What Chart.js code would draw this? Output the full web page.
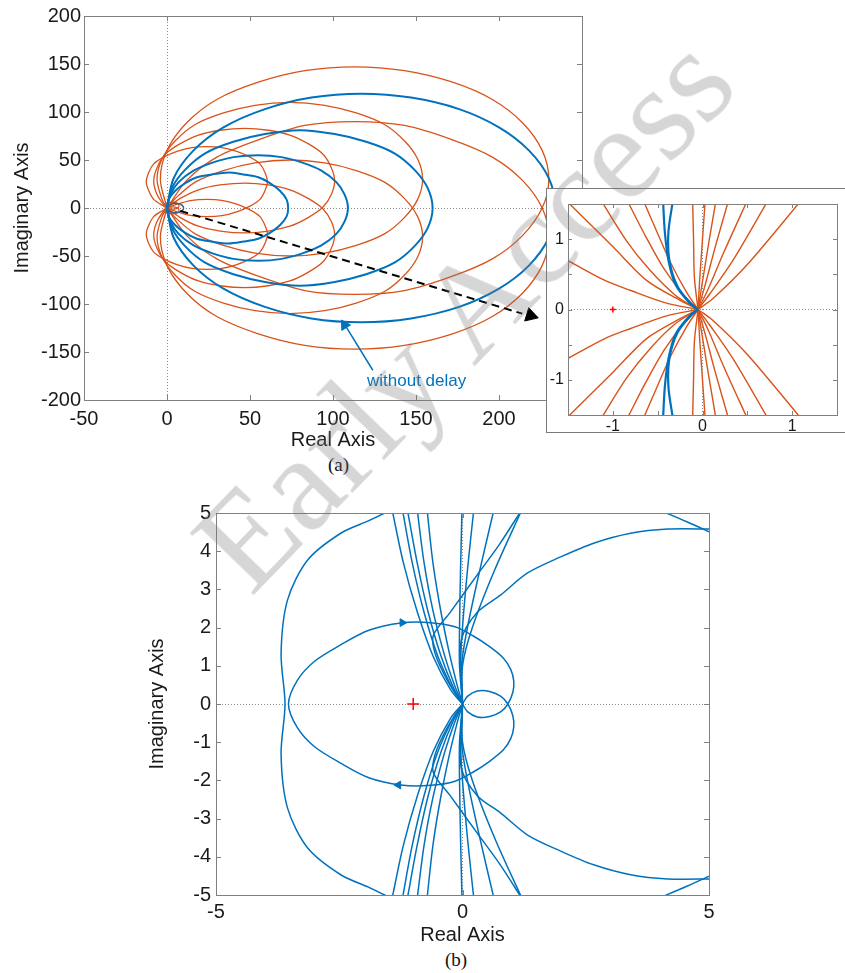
<!DOCTYPE html>
<html><head><meta charset="utf-8">
<script src="https://cdn.jsdelivr.net/npm/chart.js@4.4.1/dist/chart.umd.min.js"></script>
<style>
html,body{margin:0;padding:0;background:#fff}
body{width:845px;height:973px;position:relative;overflow:hidden;font-family:"Liberation Sans",Arial,sans-serif}
canvas{display:block}
.abs{position:absolute}
#boxA{left:0;top:0}
#boxI{left:546px;top:188px;width:299px;height:243px;background:#fff;border:1px solid #7a7a7a;border-right:none}
#boxB{left:100px;top:490px}
.cap{font-family:"Liberation Serif","Times New Roman",serif;font-size:19px;color:#111;line-height:20px}
#lblWD{left:367px;top:371px;font-size:17px;line-height:20px;color:#0072BD;white-space:nowrap}
#wm{left:110px;top:244px;font-family:"Liberation Serif","Times New Roman",serif;font-size:136px;line-height:136px;color:rgba(120,120,120,0.3);transform:rotate(-46deg);white-space:nowrap;pointer-events:none}
</style></head><body>
<div class="abs" id="boxA"><canvas id="cA" width="600" height="452"></canvas></div>
<div class="abs" id="lblWD">without delay</div>
<div class="abs" id="boxI"><canvas id="cI" width="298" height="243"></canvas></div>
<div class="abs cap" style="left:328px;top:455px">(a)</div>
<div class="abs" id="boxB"><canvas id="cB" width="630" height="457"></canvas></div>
<div class="abs cap" style="left:445px;top:950px">(b)</div>
<div class="abs" id="wm">Early Access</div>
<script>
// ---------------- DATA ----------------
// (a) main plot: tick values
const aXTicks = [-50, 0, 50, 100, 150, 200, 250];
const aYTicks = [-200, -150, -100, -50, 0, 50, 100, 150, 200];
// (a) blue loops, "without delay"
const blue1 = [[0,0],[1,9],[5,18],[11,26],[18,32],[27,35],[37,37],[46,35],[55,32],[62,26],[68,18],[72,9],[73,0],[72,-9],[68,-18],[62,-26],[55,-32],[46,-35],[37,-37],[27,-35],[18,-32],[11,-26],[5,-18],[1,-9],[0,0]];
const blue2 = [[0,0],[2,14],[7,27],[16,39],[27,47],[40,53],[55,55],[69,53],[82,47],[93,39],[102,27],[107,14],[109,0],[107,-14],[102,-27],[93,-39],[82,-47],[69,-53],[55,-55],[40,-53],[27,-47],[16,-39],[7,-27],[2,-14],[0,0]];
const blue3 = [[0,0],[3,21],[11,40],[23,57],[40,69],[59,77],[80,81],[101,77],[120,69],[137,57],[149,40],[157,21],[160,0],[157,-21],[149,-40],[137,-57],[120,-69],[101,-77],[80,-81],[59,-77],[40,-69],[23,-57],[11,-40],[3,-21],[0,0]];
const blue4 = [[0,0],[4,31],[16,60],[34,84],[59,103],[87,115],[117,119],[147,115],[176,103],[200,84],[218,60],[230,31],[234,0],[230,-31],[218,-60],[200,-84],[176,-103],[147,-115],[117,-119],[87,-115],[59,-103],[34,-84],[16,-60],[4,-31],[0,0]];
const blue0 = [[0,0],[0.7,2.5],[2.5,4.3],[5,5],[7.5,4.3],[9.3,2.5],[10,0],[9.3,-2.5],[7.5,-4.3],[5,-5],[2.5,-4.3],[0.7,-2.5],[0,0]];
// (a) orange loops, with delay (upper-turned and lower-turned)
const orA = [[0,0],[12,-29],[30,-53],[55,-71],[83,-86],[113,-90],[143,-86],[172,-71],[196,-53],[214,-29],[226,0],[230,30],[226,60],[214,89],[196,113],[172,131],[143,143],[113,147],[83,143],[55,131],[30,113],[12,89],[0,60],[-4,30],[0,0]];
const orAm = [[0,0],[12,29],[30,53],[55,71],[83,86],[113,90],[143,86],[172,71],[196,53],[214,29],[226,0],[230,-30],[226,-60],[214,-89],[196,-113],[172,-131],[143,-143],[113,-147],[83,-143],[55,-131],[30,-113],[12,-89],[0,-60],[-4,-30],[0,0]];
const orB = [[0,0],[5,-10],[17,-27],[34,-39],[53,-47],[74,-50],[95,-47],[114,-39],[131,-27],[143,-10],[151,9],[154,30],[151,51],[143,70],[131,87],[114,99],[95,107],[74,110],[53,107],[34,99],[17,87],[5,70],[-3,51],[-6,30],[-3,9],[0,0]];
const orBm = [[0,0],[5,10],[17,27],[34,39],[53,47],[74,50],[95,47],[114,39],[131,27],[143,10],[151,-9],[154,-30],[151,-51],[143,-70],[131,-87],[114,-99],[95,-107],[74,-110],[53,-107],[34,-99],[17,-87],[5,-70],[-3,-51],[-6,-30],[-3,-9],[0,0]];
const orC = [[0,0],[8,-10],[19,-19],[32,-24],[47,-26],[61,-24],[74,-19],[85,-10],[94,1],[99,14],[101,28],[99,42],[94,56],[85,67],[74,76],[61,81],[47,83],[32,81],[19,76],[8,67],[-1,56],[-6,42],[-8,28],[-6,14],[-1,1],[0,0]];
const orCm = [[0,0],[8,10],[19,19],[32,24],[47,26],[61,24],[74,19],[85,10],[94,-1],[99,-14],[101,-28],[99,-42],[94,-56],[85,-67],[74,-76],[61,-81],[47,-83],[32,-81],[19,-76],[8,-67],[-1,-56],[-6,-42],[-8,-28],[-6,-14],[-1,-1],[0,0]];
const orD = [[0,0],[6,-4],[15,-8],[24,-9],[33,-8],[42,-4],[50,2],[56,9],[59,18],[60.5,27],[59,37],[56,46],[50,53],[42,59],[33,63],[24,64],[15,63],[6,59],[-2,53],[-8,46],[-11,37],[-12.5,27],[-11,18],[-8,9],[-2,2],[0,0]];
const orDm = [[0,0],[6,4],[15,8],[24,9],[33,8],[42,4],[50,-2],[56,-9],[59,-18],[60.5,-27],[59,-37],[56,-46],[50,-53],[42,-59],[33,-63],[24,-64],[15,-63],[6,-59],[-2,-53],[-8,-46],[-11,-37],[-12.5,-27],[-11,-18],[-8,-9],[-2,-2],[0,0]];
const orE = [[0,0],[-2,3],[0,5],[4,6],[7,4],[7,1],[5,-1],[2,-1],[0,0]];
const orEm = [[0,0],[-2,-3],[0,-5],[4,-6],[7,-4],[7,-1],[5,1],[2,1],[0,0]];
// (a) annotations
const zoomArrowLine = [[8,-3],[214,-110]];
const zoomArrowHead = [[219,-112]];
const wdArrowLine = [[124,-169],[108,-124]];
const wdArrowHead = [[107,-122]];

// (a) inset
const inTicks = [-1.5, -1, -0.5, 0, 0.5, 1, 1.5];
const inCross = [[-1,0]];
const inOrUp = [
  [[-1.55,0.73],[-1.1,0.42],[-0.8,0.27],[-0.4,0.09],[-0.05,0]],
  [[-1.52,1.55],[-0.99,0.88],[-0.62,0.41],[-0.25,0.13],[-0.05,0]],
  [[-1.13,1.55],[-0.85,0.98],[-0.58,0.55],[-0.3,0.2],[-0.05,0]],
  [[-0.84,1.55],[-0.63,1.03],[-0.43,0.58],[-0.22,0.22],[-0.05,0]],
  [[-0.66,1.55],[-0.5,1.08],[-0.35,0.65],[-0.18,0.25],[-0.05,0]],
  [[-0.11,1.55],[-0.1,1.0],[-0.09,0.45],[-0.05,0]],
  [[0.03,1.55],[0.0,1.0],[-0.03,0.45],[-0.05,0]],
  [[0.15,1.55],[0.07,0.95],[0.0,0.4],[-0.05,0]],
  [[0.29,1.55],[0.14,0.88],[0.03,0.35],[-0.05,0]],
  [[0.5,1.55],[0.24,0.82],[0.06,0.28],[-0.05,0]],
  [[0.73,1.55],[0.35,0.72],[0.08,0.22],[-0.05,0]],
  [[1.1,1.55],[0.5,0.64],[0.12,0.16],[-0.05,0]]
];
const inOrDn = [
  [[-1.55,-0.73],[-1.1,-0.42],[-0.8,-0.27],[-0.4,-0.09],[-0.05,0]],
  [[-1.52,-1.55],[-0.99,-0.88],[-0.62,-0.41],[-0.25,-0.13],[-0.05,0]],
  [[-1.13,-1.55],[-0.85,-0.98],[-0.58,-0.55],[-0.3,-0.2],[-0.05,0]],
  [[-0.84,-1.55],[-0.63,-1.03],[-0.43,-0.58],[-0.22,-0.22],[-0.05,0]],
  [[-0.66,-1.55],[-0.5,-1.08],[-0.35,-0.65],[-0.18,-0.25],[-0.05,0]],
  [[-0.11,-1.55],[-0.1,-1.0],[-0.09,-0.45],[-0.05,0]],
  [[0.03,-1.55],[0.0,-1.0],[-0.03,-0.45],[-0.05,0]],
  [[0.15,-1.55],[0.07,-0.95],[0.0,-0.4],[-0.05,0]],
  [[0.29,-1.55],[0.14,-0.88],[0.03,-0.35],[-0.05,0]],
  [[0.5,-1.55],[0.24,-0.82],[0.06,-0.28],[-0.05,0]],
  [[0.73,-1.55],[0.35,-0.72],[0.08,-0.22],[-0.05,0]],
  [[1.1,-1.55],[0.5,-0.64],[0.12,-0.16],[-0.05,0]]
];
const inBlue = [
  [[-0.44,1.55],[-0.42,1.1],[-0.38,0.7],[-0.3,0.35],[-0.15,0.1],[-0.05,0]],
  [[-0.33,1.55],[-0.38,1.1],[-0.37,0.7],[-0.28,0.33],[-0.13,0.08],[-0.05,0]],
  [[-0.44,-1.55],[-0.42,-1.1],[-0.38,-0.7],[-0.3,-0.35],[-0.15,-0.1],[-0.05,0]],
  [[-0.33,-1.55],[-0.38,-1.1],[-0.37,-0.7],[-0.28,-0.33],[-0.13,-0.08],[-0.05,0]]
];

// (b) plot
const bXTicks = [-5, 0, 5];
const bYTicks = [-5, -4, -3, -2, -1, 0, 1, 2, 3, 4, 5];
const bCross = [[-1,0]];
const bLoop = [[0,0],[0.1,0.2],[0.3,0.34],[0.55,0.33],[0.78,0.2],[0.92,0],[1.02,-0.3],[1.04,-0.6],[0.98,-0.9],[0.83,-1.2],[0.55,-1.5],[0.22,-1.78],[-0.15,-2.02],[-0.65,-2.13],[-1.25,-2.12],[-1.9,-1.93],[-2.47,-1.55],[-3.0,-1.12],[-3.35,-0.62],[-3.53,0],[-3.35,0.62],[-3.0,1.12],[-2.47,1.55],[-1.9,1.93],[-1.25,2.12],[-0.65,2.13],[-0.15,2.02],[0.22,1.78],[0.55,1.5],[0.83,1.2],[0.98,0.9],[1.04,0.6],[1.02,0.3],[0.92,0],[0.78,-0.2],[0.55,-0.33],[0.3,-0.34],[0.1,-0.2],[0,0]];
const bArrowR = [[-1.22,2.13]];
const bArrowL = [[-1.3,-2.12]];
const bArc = [[-1.42,5.1],[-1.9,4.8],[-2.47,4.47],[-3.14,3.77],[-3.55,2.72],[-3.68,1.33],[-3.6,0],[-3.68,-1.33],[-3.55,-2.72],[-3.14,-3.77],[-2.47,-4.47],[-1.9,-4.8],[-1.42,-5.1]];
const bArcRU = [[3.95,5.1],[4.55,4.77],[5.1,4.45]];
const bArcRD = [[3.95,-5.1],[4.55,-4.77],[5.1,-4.45]];
const bSweepU = [[0,0],[-0.03,0.8],[-0.02,1.7],[0.3,2.4],[0.77,2.85],[1.32,3.43],[1.99,3.85],[2.66,4.21],[3.41,4.47],[4.16,4.58],[5.1,4.58]];
const bSweepD = [[0,0],[-0.03,-0.8],[-0.02,-1.7],[0.3,-2.4],[0.77,-2.85],[1.32,-3.43],[1.99,-3.85],[2.66,-4.21],[3.41,-4.47],[4.16,-4.58],[5.1,-4.58]];
const bHookU = [[0,0],[-0.3,0.6],[-0.55,1.3],[-0.59,1.8],[-0.25,2.4],[0.31,3.4],[0.76,4.2],[1.21,5.1]];
const bHookD = [[0,0],[-0.3,-0.6],[-0.55,-1.3],[-0.59,-1.8],[-0.25,-2.4],[0.31,-3.4],[0.76,-4.2],[1.21,-5.1]];
const bFanU = [
  [[0,0],[-0.24,0.37],[-0.59,1.23],[-0.91,2.38],[-1.2,3.7],[-1.43,5.1]],
  [[0,0],[-0.2,0.4],[-0.5,1.25],[-0.78,2.4],[-1.02,3.7],[-1.22,5.1]],
  [[0,0],[-0.18,0.42],[-0.44,1.27],[-0.7,2.42],[-0.92,3.7],[-1.12,5.1]],
  [[0,0],[-0.15,0.45],[-0.37,1.3],[-0.6,2.45],[-0.78,3.7],[-0.92,5.1]],
  [[0,0],[-0.11,0.5],[-0.27,1.35],[-0.45,2.5],[-0.6,3.7],[-0.72,5.1]],
  [[0,0],[-0.06,1.0],[-0.06,2.0],[-0.04,3.5],[-0.01,5.1]],
  [[0,0],[-0.04,1.0],[0.0,2.0],[0.1,3.5],[0.23,5.1]],
  [[0,0],[-0.02,1.0],[0.1,2.0],[0.35,3.5],[0.64,5.1]],
  [[0,0],[0.0,1.0],[0.2,2.0],[0.65,3.5],[1.21,5.1]]
];
const bFanD = [
  [[0,0],[-0.24,-0.37],[-0.59,-1.23],[-0.91,-2.38],[-1.2,-3.7],[-1.43,-5.1]],
  [[0,0],[-0.2,-0.4],[-0.5,-1.25],[-0.78,-2.4],[-1.02,-3.7],[-1.22,-5.1]],
  [[0,0],[-0.18,-0.42],[-0.44,-1.27],[-0.7,-2.42],[-0.92,-3.7],[-1.12,-5.1]],
  [[0,0],[-0.15,-0.45],[-0.37,-1.3],[-0.6,-2.45],[-0.78,-3.7],[-0.92,-5.1]],
  [[0,0],[-0.11,-0.5],[-0.27,-1.35],[-0.45,-2.5],[-0.6,-3.7],[-0.72,-5.1]],
  [[0,0],[-0.06,-1.0],[-0.06,-2.0],[-0.04,-3.5],[-0.01,-5.1]],
  [[0,0],[-0.04,-1.0],[0.0,-2.0],[0.1,-3.5],[0.23,-5.1]],
  [[0,0],[-0.02,-1.0],[0.1,-2.0],[0.35,-3.5],[0.64,-5.1]],
  [[0,0],[0.0,-1.0],[0.2,-2.0],[0.65,-3.5],[1.21,-5.1]]
];

// ---------------- helpers ----------------
const ORANGE = '#D95319', BLUE = '#0072BD', INK = '#1a1a1a', BOX = '#808080';
const FAM = '"Liberation Sans", Arial, Helvetica, sans-serif';
const P = a => a.map(([x, y]) => ({x, y}));
function curve(arr, color, w, extra) {
  return Object.assign({data: P(arr), showLine: true, borderColor: color, backgroundColor: color,
    borderWidth: w, pointRadius: 0, pointHoverRadius: 0, tension: 0.3, fill: false}, extra || {});
}
function mark(arr, color, style, rot, r, bw) {
  return {data: P(arr), showLine: false, pointStyle: style, pointRotation: rot, pointRadius: r,
    pointBorderColor: color, pointBackgroundColor: color, pointBorderWidth: bw || 1};
}
const boxTicks = {
  id: 'boxTicks',
  afterDraw(chart, args, o) {
    const {ctx, chartArea: a, scales: {x, y}} = chart;
    ctx.save();
    ctx.strokeStyle = o.color; ctx.lineWidth = 1;
    ctx.beginPath();
    x.ticks.forEach(t => {
      const p = Math.round(x.getPixelForValue(t.value)) + 0.5;
      ctx.moveTo(p, a.bottom); ctx.lineTo(p, a.bottom - o.len);
      ctx.moveTo(p, a.top); ctx.lineTo(p, a.top + o.len);
    });
    y.ticks.forEach(t => {
      const p = Math.round(y.getPixelForValue(t.value)) + 0.5;
      ctx.moveTo(a.left, p); ctx.lineTo(a.left + o.len, p);
      ctx.moveTo(a.right, p); ctx.lineTo(a.right - o.len, p);
    });
    ctx.stroke();
    ctx.strokeRect(Math.round(a.left) + 0.5, Math.round(a.top) + 0.5, Math.round(a.right - a.left), Math.round(a.bottom - a.top));
    ctx.restore();
  }
};
const zeroGrid = {drawTicks: false, lineWidth: 1,
  color: c => (c.tick && Math.abs(c.tick.value) < 1e-9) ? '#8a8a8a' : 'rgba(0,0,0,0)'};
function scale(cfg) {
  return {
    type: 'linear', min: cfg.min, max: cfg.max,
    ticks: {stepSize: cfg.step, autoSkip: false, maxRotation: 0, minRotation: 0, padding: cfg.pad,
      color: INK, font: {family: FAM, size: cfg.fs},
      callback: cfg.cb || (v => String(v))},
    afterBuildTicks: cfg.list ? (sc => { sc.ticks = cfg.list.map(v => ({value: v})); }) : undefined,
    grid: zeroGrid, border: {display: false, dash: [1, 2]},
    title: cfg.title ? {display: true, text: cfg.title, color: INK, font: {family: FAM, size: cfg.tfs},
      padding: cfg.tpad} : {display: false},
    afterFit: sc => { if (cfg.w !== undefined) sc.width = cfg.w; if (cfg.h !== undefined) sc.height = cfg.h; }
  };
}
function base(pad, xs, ys, boxOpt) {
  return {
    responsive: false, animation: false, events: [],
    layout: {padding: pad},
    elements: {line: {capBezierPoints: false}},
    plugins: {legend: {display: false}, tooltip: {enabled: false}, boxTicks: boxOpt},
    scales: {x: xs, y: ys}
  };
}

// ---------------- chart (a) ----------------
new Chart(document.getElementById('cA'), {
  type: 'scatter',
  data: {datasets: [
    mark(zoomArrowHead, '#000', 'triangle', 107, 8),
    curve(zoomArrowLine, '#000', 2, {borderDash: [8, 5], tension: 0}),
    mark(wdArrowHead, BLUE, 'triangle', -32, 6),
    curve(wdArrowLine, BLUE, 1.5, {tension: 0}),
    curve(blue0, '#3f5f8f', 1.5),
    curve(blue1, BLUE, 2), curve(blue2, BLUE, 2), curve(blue3, BLUE, 2), curve(blue4, BLUE, 2),
    curve(orE, ORANGE, 1.3), curve(orEm, ORANGE, 1.3),
    curve(orD, ORANGE, 1.3), curve(orDm, ORANGE, 1.3),
    curve(orC, ORANGE, 1.3), curve(orCm, ORANGE, 1.3),
    curve(orB, ORANGE, 1.3), curve(orBm, ORANGE, 1.3),
    curve(orA, ORANGE, 1.3), curve(orAm, ORANGE, 1.3)
  ]},
  options: base({top: 16, right: 18, left: 0, bottom: 0},
    scale({min: -50, max: 250, step: 50, list: aXTicks, pad: 7, fs: 20, title: 'Real Axis', tfs: 20, tpad: {top: 0, bottom: 0}, h: 52,
      cb: v => (v === 250 ? '' : String(v))}),
    scale({min: -200, max: 200, step: 50, list: aYTicks, pad: 3, fs: 20, title: 'Imaginary Axis', tfs: 20, tpad: {top: 10, bottom: 0}, w: 84}),
    {color: BOX, len: 5}),
  plugins: [boxTicks]
});

// ---------------- inset ----------------
const inSets = [mark(inCross, '#ff0000', 'cross', 0, 3, 1.5)];
inBlue.forEach(c => inSets.push(curve(c, BLUE, 2.2)));
inOrUp.forEach(c => inSets.push(curve(c, ORANGE, 1.4)));
inOrDn.forEach(c => inSets.push(curve(c, ORANGE, 1.4)));
new Chart(document.getElementById('cI'), {
  type: 'scatter',
  data: {datasets: inSets},
  options: base({top: 15, right: 8, left: 0, bottom: 0},
    scale({min: -1.5, max: 1.5, step: 0.5, list: inTicks, pad: 2, fs: 16, h: 17,
      cb: v => Number.isInteger(v) ? String(v) : ''}),
    scale({min: -1.5, max: 1.5, step: 0.5, list: inTicks, pad: 4, fs: 16, w: 21,
      cb: v => Number.isInteger(v) ? String(v) : ''}),
    {color: BOX, len: 4}),
  plugins: [boxTicks]
});

// ---------------- chart (b) ----------------
const bSets = [
  mark(bCross, '#ff0000', 'cross', 0, 6, 1.5),
  mark(bArrowR, BLUE, 'triangle', 90, 4.5),
  mark(bArrowL, BLUE, 'triangle', -90, 4.5),
  curve(bLoop, BLUE, 1.5),
  curve(bArc, BLUE, 1.5), curve(bArcRU, BLUE, 1.5), curve(bArcRD, BLUE, 1.5),
  curve(bSweepU, BLUE, 1.5), curve(bSweepD, BLUE, 1.5),
  curve(bHookU, BLUE, 1.5), curve(bHookD, BLUE, 1.5)
];
bFanU.forEach(c => bSets.push(curve(c, BLUE, 1.5)));
bFanD.forEach(c => bSets.push(curve(c, BLUE, 1.5)));
new Chart(document.getElementById('cB'), {
  type: 'scatter',
  data: {datasets: bSets},
  options: base({top: 23, right: 21, left: 0, bottom: 0},
    scale({min: -5, max: 5, step: 5, list: bXTicks, pad: 5, fs: 20, title: 'Real Axis', tfs: 20, tpad: {top: 0, bottom: 0}, h: 52}),
    scale({min: -5, max: 5, step: 1, list: bYTicks, pad: 5, fs: 20, title: 'Imaginary Axis', tfs: 20, tpad: {top: 45, bottom: 0}, w: 116}),
    {color: BOX, len: 5}),
  plugins: [boxTicks]
});
</script>
</body></html>
